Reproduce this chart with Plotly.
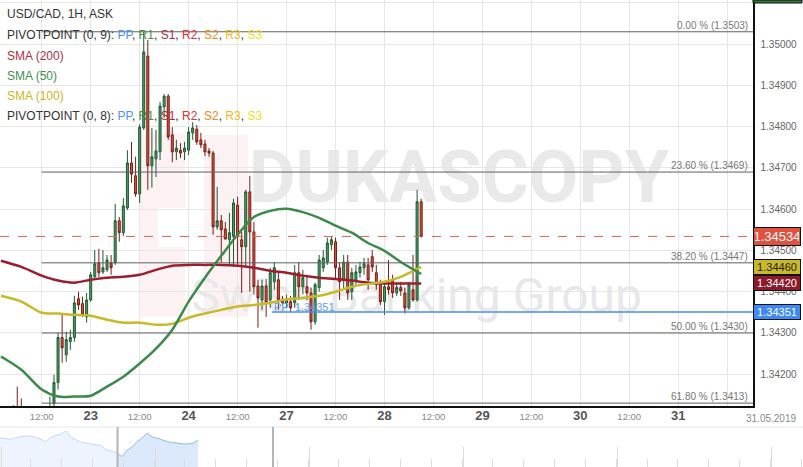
import plotly.graph_objects as go

# ---------------- data ----------------
# hour index: 0 = 23 May 00:00 (weekend hours removed)
first_hour = -22
opens = [1.34095, 1.34085, 1.34075, 1.34090, 1.34080, 1.34060, 1.34045, 1.34030, 1.34060, 1.34050, 1.34080, 1.34070, 1.34100,
         1.34129, 1.34180, 1.34289, 1.34247, 1.34279, 1.34289, 1.34383, 1.34371, 1.34339,
         1.34380, 1.34436, 1.34470, 1.34448, 1.34453, 1.34470, 1.34470, 1.34572, 1.34543, 1.34603, 1.34712, 1.34681,
         1.34637, 1.34797, 1.34971, 1.34705, 1.34722, 1.34739, 1.34848, 1.34874, 1.34780, 1.34739, 1.34743, 1.34739,
         1.34743, 1.34785, 1.34794, 1.34768, 1.34758, 1.34741, 1.34736, 1.34557, 1.34572, 1.34552, 1.34526, 1.34534,
         1.34610, 1.34526, 1.34509, 1.34642, 1.34545, 1.34414, 1.34380, 1.34414, 1.34380, 1.34424, 1.34429, 1.34380,
         1.34373, 1.34376, 1.34373, 1.34446, 1.34412, 1.34412, 1.34397, 1.34327, 1.34410, 1.34458, 1.34472, 1.34514,
         1.34521, 1.34458, 1.34429, 1.34472, 1.34400, 1.34429, 1.34446, 1.34458, 1.34465, 1.34485, 1.34446, 1.34417,
         1.34376, 1.34412, 1.34429, 1.34397, 1.34410, 1.34397, 1.34361, 1.34405, 1.34380, 1.34618]
highs = [1.34112, 1.34105, 1.34110, 1.34125, 1.34170, 1.34141, 1.34090, 1.34080, 1.34100, 1.34110, 1.34115, 1.34118, 1.34146,
         1.34199, 1.34301, 1.34347, 1.34303, 1.34308, 1.34390, 1.34400, 1.34388, 1.34397,
         1.34448, 1.34501, 1.34504, 1.34501, 1.34489, 1.34489, 1.34613, 1.34581, 1.34627, 1.34743, 1.34763, 1.34727,
         1.34806, 1.35030, 1.35010, 1.34797, 1.34792, 1.34860, 1.34879, 1.34879, 1.34799, 1.34768, 1.34760, 1.34763,
         1.34799, 1.34811, 1.34804, 1.34785, 1.34768, 1.34748, 1.34741, 1.34654, 1.34586, 1.34569, 1.34591, 1.34625,
         1.34630, 1.34545, 1.34647, 1.34681, 1.34569, 1.34429, 1.34429, 1.34431, 1.34458, 1.34472, 1.34448, 1.34390,
         1.34393, 1.34390, 1.34465, 1.34472, 1.34453, 1.34441, 1.34410, 1.34422, 1.34489, 1.34501, 1.34531, 1.34535,
         1.34531, 1.34472, 1.34489, 1.34489, 1.34458, 1.34465, 1.34472, 1.34482, 1.34482, 1.34501, 1.34465, 1.34429,
         1.34424, 1.34477, 1.34441, 1.34422, 1.34424, 1.34410, 1.34424, 1.34489, 1.34647, 1.34625]
lows = [1.34070, 1.34060, 1.34050, 1.34070, 1.34040, 1.34030, 1.34010, 1.34000, 1.34030, 1.34030, 1.34050, 1.34040, 1.34080,
        1.34114, 1.34163, 1.34228, 1.34230, 1.34259, 1.34279, 1.34356, 1.34339, 1.34325,
        1.34376, 1.34431, 1.34436, 1.34443, 1.34448, 1.34441, 1.34465, 1.34521, 1.34535, 1.34598, 1.34664, 1.34630,
        1.34615, 1.34792, 1.34647, 1.34652, 1.34678, 1.34719, 1.34821, 1.34768, 1.34714, 1.34719, 1.34724, 1.34719,
        1.34731, 1.34768, 1.34756, 1.34748, 1.34729, 1.34727, 1.34538, 1.34550, 1.34470, 1.34526, 1.34465, 1.34460,
        1.34465, 1.34397, 1.34460, 1.34400, 1.34393, 1.34313, 1.34356, 1.34339, 1.34361, 1.34405, 1.34356, 1.34366,
        1.34361, 1.34351, 1.34361, 1.34380, 1.34393, 1.34380, 1.34308, 1.34320, 1.34400, 1.34448, 1.34465, 1.34501,
        1.34429, 1.34380, 1.34405, 1.34380, 1.34380, 1.34417, 1.34434, 1.34441, 1.34405, 1.34448, 1.34405, 1.34368,
        1.34344, 1.34393, 1.34385, 1.34390, 1.34390, 1.34347, 1.34356, 1.34376, 1.34376, 1.34531]
closes = [1.34085, 1.34075, 1.34090, 1.34080, 1.34060, 1.34045, 1.34030, 1.34060, 1.34050, 1.34080, 1.34070, 1.34100, 1.34110,
          1.34180, 1.34289, 1.34264, 1.34284, 1.34289, 1.34373, 1.34368, 1.34344, 1.34380,
          1.34441, 1.34468, 1.34446, 1.34458, 1.34477, 1.34458, 1.34572, 1.34543, 1.34608, 1.34712, 1.34685, 1.34637,
          1.34799, 1.34981, 1.34705, 1.34727, 1.34741, 1.34850, 1.34874, 1.34775, 1.34739, 1.34748, 1.34736, 1.34748,
          1.34787, 1.34797, 1.34763, 1.34756, 1.34739, 1.34736, 1.34557, 1.34572, 1.34550, 1.34528, 1.34543, 1.34615,
          1.34534, 1.34509, 1.34642, 1.34545, 1.34412, 1.34385, 1.34414, 1.34373, 1.34446, 1.34458, 1.34380, 1.34373,
          1.34380, 1.34361, 1.34446, 1.34412, 1.34434, 1.34397, 1.34327, 1.34417, 1.34477, 1.34482, 1.34518, 1.34526,
          1.34458, 1.34424, 1.34472, 1.34397, 1.34446, 1.34448, 1.34460, 1.34468, 1.34429, 1.34460, 1.34417, 1.34376,
          1.34412, 1.34405, 1.34397, 1.34410, 1.34402, 1.34361, 1.34417, 1.34380, 1.34618, 1.34534]
candle_hours = list(range(first_hour, first_hour + len(opens)))

sma_hours = [-22, -17, -12, -8, -4, 0, 4, 8, 12, 16, 20, 24, 28, 32, 36, 40, 44, 48, 52, 56, 60, 64, 68, 72, 76, 81]
sma200 = [1.34475, 1.34460, 1.34439, 1.34427, 1.34422, 1.34429, 1.34434, 1.34436, 1.34441, 1.34453, 1.34463, 1.34465, 1.34465,
          1.34465, 1.34463, 1.34458, 1.34451, 1.34446, 1.34439, 1.34434, 1.34431, 1.34427, 1.34422, 1.34420, 1.34420, 1.34420]
sma50 = [1.34243, 1.34211, 1.34163, 1.34146, 1.34146, 1.34148, 1.34170, 1.34194, 1.34226, 1.34262, 1.34308, 1.34376, 1.34434,
         1.34487, 1.34538, 1.34581, 1.34596, 1.34601, 1.34593, 1.34579, 1.34560, 1.34543, 1.34518, 1.34499, 1.34472, 1.34443]
sma100 = [1.34390, 1.34376, 1.34349, 1.34347, 1.34344, 1.34342, 1.34332, 1.34325, 1.34325, 1.34320, 1.34322, 1.34337, 1.34347,
          1.34356, 1.34364, 1.34368, 1.34373, 1.34381, 1.34385, 1.34390, 1.34400, 1.34412, 1.34419, 1.34424, 1.34436, 1.34460]

fib_levels = [1.3503, 1.3469, 1.3447, 1.3430, 1.3413]
fib_labels = ["0.00 % (1.3503)", "23.60 % (1.3469)", "38.20 % (1.3447)", "50.00 % (1.3430)", "61.80 % (1.3413)"]
fib_start_hour = -12

pivot_pp = 1.34351
pivot_start_hour = 44.4
last_price = 1.34534

tick_hours = [-12, 0, 12, 24, 36, 48, 60, 72, 84, 96, 108, 120, 132, 144, 156]
tick_labels = ["12:00", "23", "12:00", "24", "12:00", "27", "12:00", "28", "12:00", "29", "12:00", "30", "12:00", "31", ""]

nav_values = [29, 28.5, 27.7, 29, 30.3, 30.7, 31, 29.5, 28, 25.3, 29.7, 31.5, 33, 36, 29.5, 27, 25, 24, 23, 22.5,
              21, 17, 16, 14.3, 10.5, 16.5, 20, 25.3, 29, 34, 30, 28.8, 27, 25.3, 24.5, 23.7, 23.2, 23, 23.7, 27]
nav_split = 23

# ---------------- geometry ----------------
W, H = 803, 467
PR = 753      # right edge of plot area (px)
PB = 406      # bottom of plot area (px)
NAV_H = 40
x_range = [-22.23, 162.33]
y_range = [1.34123, 1.35107]

def px(x):
    return x / W

def py(y):
    return 1 - y / H

FONT = "Arial, Liberation Sans, sans-serif"

fig = go.Figure()

fig.add_trace(go.Candlestick(
    x=candle_hours, open=opens, high=highs, low=lows, close=closes,
    increasing=dict(line=dict(color="#1f5a32", width=1), fillcolor="#4c9a68"),
    decreasing=dict(line=dict(color="#7a1d14", width=1), fillcolor="#d9503a"),
    whiskerwidth=0, showlegend=False, hoverinfo="skip", xaxis="x", yaxis="y"))

for vals, col in [(sma200, "#9b1d2e"), (sma100, "#c9b828"), (sma50, "#3a8a4a")]:
    fig.add_trace(go.Scatter(x=sma_hours, y=vals, mode="lines",
                             line=dict(color=col, width=2.5, shape="spline", smoothing=0.8),
                             showlegend=False, hoverinfo="skip", xaxis="x", yaxis="y"))

# navigator
nav_x = list(range(len(nav_values)))
fig.add_trace(go.Scatter(x=nav_x[:nav_split + 1], y=nav_values[:nav_split + 1], mode="lines",
                         fill="tozeroy", fillcolor="#eef4fd", line=dict(color="#c5d8f6", width=1),
                         showlegend=False, hoverinfo="skip", xaxis="x2", yaxis="y2"))
fig.add_trace(go.Scatter(x=nav_x[nav_split:], y=nav_values[nav_split:], mode="lines",
                         fill="tozeroy", fillcolor="#dce8fb", line=dict(color="#94b8f2", width=1),
                         showlegend=False, hoverinfo="skip", xaxis="x2", yaxis="y2"))

shapes = []
# watermark logo (pink) and text
pink = "rgba(226,120,140,0.10)"
for (x0, y0, x1, y1) in [(140, 133, 158, 317), (158, 133, 185, 208), (158, 247, 185, 317), (204, 135, 248, 317)]:
    shapes.append(dict(type="rect", xref="paper", yref="paper", x0=px(x0), x1=px(x1), y0=py(y1), y1=py(y0),
                       fillcolor=pink, line=dict(width=0), layer="between"))
shapes.append(dict(type="rect", xref="paper", yref="paper", x0=px(258), x1=px(660), y0=py(212), y1=py(132),
                   fillcolor="rgba(0,0,0,0)", line=dict(width=0), layer="between",
                   label=dict(text="<b>DUKASCOPY</b>", textposition="middle center",
                              font=dict(family="Liberation Sans Narrow, Arial Narrow, Roboto, sans-serif", size=72, color="#e9e9e9"))))
shapes.append(dict(type="rect", xref="paper", yref="paper", x0=px(290), x1=px(648), y0=py(322), y1=py(262),
                   fillcolor="rgba(0,0,0,0)", line=dict(width=0), layer="between",
                   label=dict(text="Swiss Banking Group", textposition="middle right",
                              font=dict(family="Liberation Sans Narrow, Arial Narrow, Roboto, sans-serif", size=48, color="#e8e8e8"))))

# fibonacci levels
for lv in fib_levels:
    shapes.append(dict(type="line", xref="x", yref="y", x0=fib_start_hour, x1=x_range[1], y0=lv, y1=lv,
                       line=dict(color="#606060", width=1), layer="above"))
# pivot PP
shapes.append(dict(type="line", xref="x", yref="y", x0=pivot_start_hour, x1=x_range[1], y0=pivot_pp, y1=pivot_pp,
                   line=dict(color="#4a8cf0", width=1.5), layer="above"))
# current price
shapes.append(dict(type="line", xref="paper", yref="y", x0=0, x1=px(PR), y0=last_price, y1=last_price,
                   line=dict(color="#e0604a", width=1, dash="dash"), layer="above"))
# navigator decorations
shapes.append(dict(type="line", xref="paper", yref="paper", x0=0, x1=1, y0=NAV_H / H, y1=NAV_H / H,
                   line=dict(color="#e6e6e6", width=1)))
for hx in [117.5, 273]:
    shapes.append(dict(type="line", xref="paper", yref="paper", x0=px(hx), x1=px(hx), y0=0, y1=NAV_H / H,
                       line=dict(color="#b4b4b4", width=2)))
# partially visible green tag at top right
shapes.append(dict(type="rect", xref="paper", yref="paper", x0=px(753), x1=px(802), y0=py(3), y1=1,
                   fillcolor="#2f7a3a", line=dict(color="#111", width=1)))

annotations = []
legend_lines = [
    (14, "USD/CAD, 1H, ASK"),
    (35, "PIVOTPOINT (0, 9): <span style='color:#4d94f5'>PP</span>, <span style='color:#4a8a3a'>R1</span>, "
         "<span style='color:#b02838'>S1</span>, <span style='color:#e83030'>R2</span>, "
         "<span style='color:#f08a20'>S2</span>, <span style='color:#f2b818'>R3</span>, "
         "<span style='color:#efe020'>S3</span>"),
    (56, "<span style='color:#b03040'>SMA (200)</span>"),
    (76, "<span style='color:#3f8f4f'>SMA (50)</span>"),
    (96, "<span style='color:#c8b52a'>SMA (100)</span>"),
    (116, "PIVOTPOINT (0, 8): <span style='color:#4d94f5'>PP</span>, <span style='color:#4a8a3a'>R1</span>, "
          "<span style='color:#b02838'>S1</span>, <span style='color:#e83030'>R2</span>, "
          "<span style='color:#f08a20'>S2</span>, <span style='color:#f2b818'>R3</span>, "
          "<span style='color:#efe020'>S3</span>"),
]
for yy, txt in legend_lines:
    annotations.append(dict(xref="paper", yref="paper", x=px(5), y=py(yy), xanchor="left", yanchor="middle",
                            text=txt, showarrow=False, font=dict(family=FONT, size=12, color="#333")))

for lv, lab in zip(fib_levels, fib_labels):
    annotations.append(dict(xref="paper", yref="y", x=px(750), y=lv, xanchor="right", yanchor="bottom",
                            text=lab, showarrow=False, yshift=-1, font=dict(family=FONT, size=10, color="#777")))

annotations.append(dict(xref="x", yref="y", x=pivot_start_hour, y=pivot_pp, xanchor="left", yanchor="bottom",
                        text="PP: 1.34351", showarrow=False, yshift=-3, font=dict(family=FONT, size=11, color="#5b9cf0")))

# price tags on the right axis
tags = [
    (sma50[-1], "1.34443", "#2f7a3a", "#fff", 11),
    (sma100[-1], "1.34460", "#c9b828", "#222", 11),
    (sma200[-1], "1.34420", "#8b1a2a", "#fff", 11),
    (pivot_pp, "1.34351", "#3d8af7", "#fff", 11),
    (last_price, "1.34534", "#e0523f", "#fff", 13),
]
for val, txt, bg, fc, fs in tags:
    annotations.append(dict(xref="paper", yref="y", x=px(753), y=val, xanchor="left", yanchor="middle",
                            text=txt, showarrow=False, bgcolor=bg, bordercolor="#111", borderwidth=1, borderpad=1,
                            width=44, align="center", font=dict(family=FONT, size=fs, color=fc)))

annotations.append(dict(xref="paper", yref="paper", x=px(798), y=py(418), xanchor="right", yanchor="middle",
                        text="31.05.2019", showarrow=False, font=dict(family=FONT, size=10, color="#888")))

ticktext = []
for t in tick_labels:
    if t.isdigit():
        ticktext.append(f"<span style='font-size:13px;color:#555'><b>{t}</b></span>")
    else:
        ticktext.append(f"<span style='font-size:9.5px;color:#888'>{t}</span>")

fig.update_layout(
    width=W, height=H,
    margin=dict(l=0, r=0, t=0, b=0),
    paper_bgcolor="white", plot_bgcolor="white",
    font=dict(family=FONT, size=10, color="#666"),
    hovermode=False, showlegend=False,
    xaxis=dict(domain=[0, PR / W], range=x_range, anchor="y", tickmode="array", tickvals=tick_hours,
               ticktext=ticktext, showgrid=True, gridcolor="#e6e6e6", gridwidth=1, zeroline=False,
               showline=True, linecolor="#111", linewidth=1.5, ticks="", rangeslider=dict(visible=False)),
    yaxis=dict(domain=[(H - PB) / H, 1], range=y_range, side="right", anchor="x", dtick=0.001, tick0=1.34,
               tickformat=".5f", showgrid=True, gridcolor="#e6e6e6", zeroline=False, showline=True,
               linecolor="#111", linewidth=1.5, ticks="outside", ticklen=4, tickcolor="rgba(0,0,0,0)",
               tickfont=dict(size=10, color="#666"), automargin=False),
    xaxis2=dict(domain=[0, 1], anchor="y2", range=[0, 158.2], showgrid=False, zeroline=False, showline=False,
                showticklabels=False, ticks="inside", ticklen=20, tickcolor="#dddddd", tick0=0.24, dtick=30.35,
                minor=dict(ticks="inside", ticklen=8, tickcolor="#dddddd", dtick=6.07)),
    yaxis2=dict(domain=[0, NAV_H / H], range=[0, 40], visible=False, anchor="x2"),
    shapes=shapes, annotations=annotations,
)

fig.write_html("out.html", config={"displayModeBar": False, "staticPlot": True},
               post_script="document.body.style.margin='0';document.body.style.overflow='hidden';")
